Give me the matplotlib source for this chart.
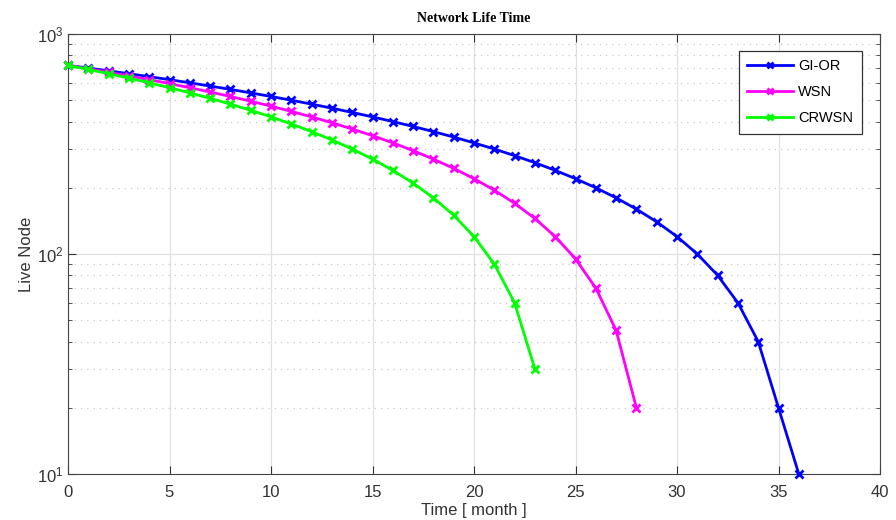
import numpy as np
import matplotlib.pyplot as plt
from matplotlib.ticker import LogLocator, NullFormatter

# monthly count of live nodes for each protocol
months_gior = list(range(0, 37))
live_gior = [720, 700, 680, 660, 640, 620, 600, 580, 560, 540, 520, 500, 480,
             460, 440, 420, 400, 380, 360, 340, 320, 300, 280, 260, 240, 220,
             200, 180, 160, 140, 120, 100, 80, 60, 40, 20, 10]

months_wsn = list(range(0, 29))
live_wsn = [720, 695, 670, 645, 620, 595, 570, 545, 520, 495, 470, 445, 420,
            395, 370, 345, 320, 295, 270, 245, 220, 195, 170, 145, 120, 95,
            70, 45, 20]

months_crwsn = list(range(0, 24))
live_crwsn = [720, 690, 660, 630, 600, 570, 540, 510, 480, 450, 420, 390, 360,
              330, 300, 270, 240, 210, 180, 150, 120, 90, 60, 30]

plt.rcParams['font.family'] = ['Liberation Sans', 'DejaVu Sans']

fig = plt.figure(figsize=(8.96, 5.2), dpi=100)
ax = fig.add_axes([68/896, 46/520, 812/896, 440/520])

ax.plot(months_gior, live_gior, color='#0000ff', marker='x', lw=2, ms=6, mew=2,
        label='GI-OR', clip_on=False, zorder=3)
ax.plot(months_wsn, live_wsn, color='#ff00ff', marker='x', lw=2, ms=6, mew=2,
        label='WSN', clip_on=False, zorder=3)
ax.plot(months_crwsn, live_crwsn, color='#00ff00', marker='x', lw=2, ms=6, mew=2,
        label='CRWSN', clip_on=False, zorder=3)

ax.set_yscale('log')
ax.set_xlim(0, 40)
ax.set_ylim(10, 1000)
ax.set_xticks(np.arange(0, 41, 5))
ax.yaxis.set_minor_locator(LogLocator(base=10, subs=np.arange(2, 10)))
ax.yaxis.set_minor_formatter(NullFormatter())

ax.grid(True, which='major', color='#e0e0e0', lw=0.9, ls='-')
ax.grid(True, which='minor', axis='y', color='#c8c8c8', lw=0.9, ls=(0, (1, 4)))

ax.tick_params(which='both', direction='in', top=True, right=True, colors='#333333',
               labelcolor='#333333', labelsize=12)
ax.tick_params(which='major', length=6)
ax.tick_params(which='minor', length=3)
ax.tick_params(axis='x', pad=8)
for s in ax.spines.values():
    s.set_color('#444444')

ax.set_title('Network Life Time', fontsize=10, fontweight='bold',
             family='Liberation Serif', pad=9)
ax.set_xlabel('Time [ month ]', fontsize=12, color='#333333', labelpad=2)
ax.set_ylabel('Live Node', fontsize=12, color='#333333', labelpad=2)

leg = ax.legend(loc='upper right', bbox_to_anchor=(0.978, 0.962), fontsize=10.5,
                handlelength=3.15, handletextpad=0.34, fancybox=False, framealpha=1,
                edgecolor='#333333', borderpad=0.6, borderaxespad=0,
                labelspacing=0.8, markerscale=0.8)
leg.get_frame().set_linewidth(0.9)

fig.savefig('out.png', dpi=100)
